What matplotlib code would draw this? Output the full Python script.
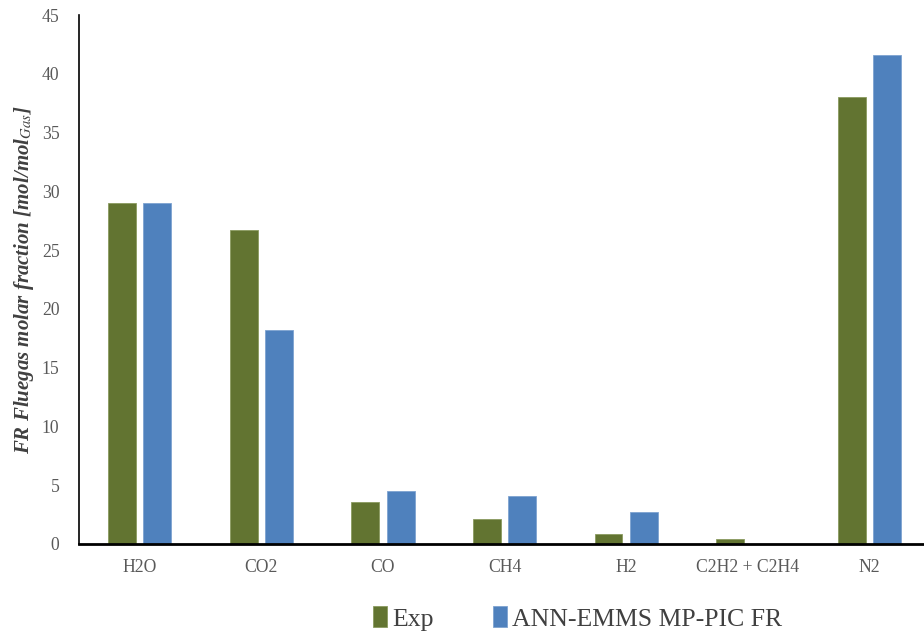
import matplotlib
matplotlib.use('Agg')
import matplotlib.pyplot as plt
import numpy as np

# data
species = ['H2O', 'CO2', 'CO', 'CH4', 'H2', 'C2H2 + C2H4', 'N2']
exp_vals = [29.0, 26.7, 3.6, 2.1, 0.85, 0.4, 38.0]
model_vals = [29.0, 18.2, 4.5, 4.1, 2.7, 0.0, 41.6]

plt.rcParams['font.family'] = ['Liberation Serif', 'DejaVu Serif']
plt.rcParams['mathtext.fontset'] = 'stix'

fig = plt.figure(figsize=(9.24, 6.31), dpi=100)
ax = fig.add_axes([0.0855, 0.138, 0.9145, 0.838])

x = np.arange(len(species))
w = 0.23
ax.bar(x - 0.145, exp_vals, w, color='#627431', edgecolor='#8a9a60', linewidth=0.6, label='Exp')
ax.bar(x + 0.145, model_vals, w, color='#4F81BD', edgecolor='#7ea3d1', linewidth=0.6,
       label='ANN-EMMS MP-PIC FR')

ax.set_xlim(-0.5, 6.45)
ax.set_ylim(0, 45)
ax.set_yticks(range(0, 46, 5))
ax.set_xticks(x)
ax.set_xticklabels(species)
ax.tick_params(axis='both', length=0, labelsize=12.7, colors='#595959')
ax.tick_params(axis='x', pad=11)
ax.tick_params(axis='y', pad=14)

for s in ['top', 'right']:
    ax.spines[s].set_visible(False)
ax.spines['left'].set_linewidth(1.2)
ax.spines['bottom'].set_linewidth(2)

ax.set_ylabel('FR Fluegas molar fraction [mol/mol$_{\\mathit{Gas}}$]', fontsize=15,
              fontstyle='italic', fontweight='bold', color='#404040', labelpad=4)

fig.legend(loc='center', bbox_to_anchor=(0.625, 0.02), ncol=2, frameon=False,
           fontsize=18.5, handlelength=0.55, handleheight=0.9, handletextpad=0.2,
           columnspacing=2.3, labelcolor='#404040')

fig.savefig('out.png', dpi=100)
